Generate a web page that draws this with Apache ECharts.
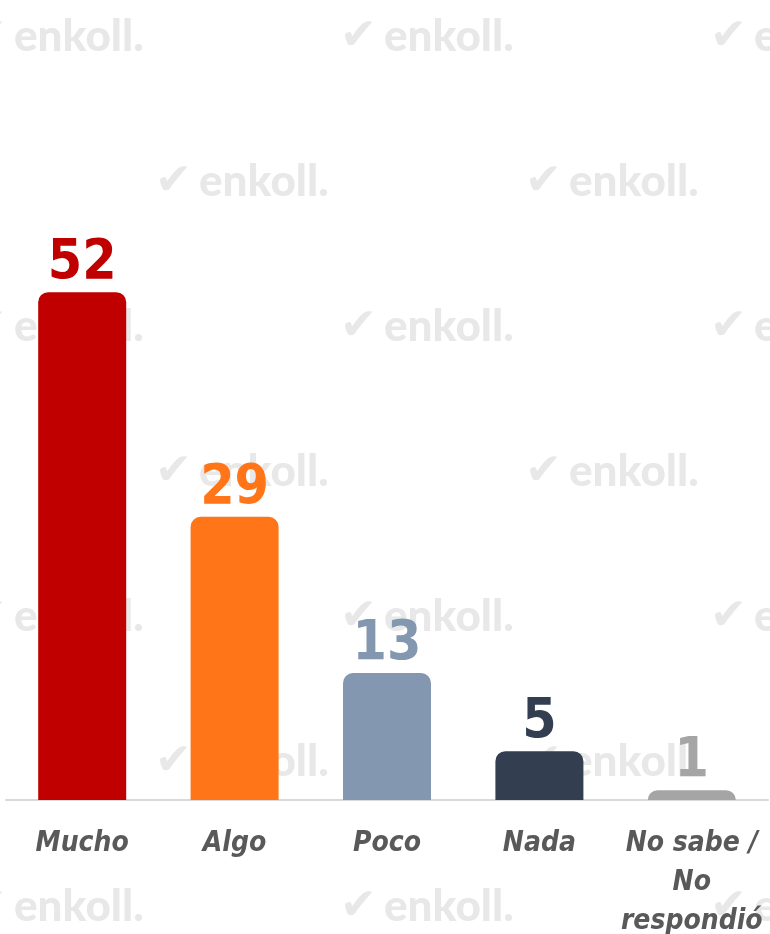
<!DOCTYPE html>
<html>
<head>
<meta charset="utf-8">
<script src="https://cdn.jsdelivr.net/npm/echarts@6/dist/echarts.min.js"></script>
<style>
  html, body { margin: 0; padding: 0; background: #fff; }
  #chart { width: 770px; height: 934px; }
</style>
</head>
<body>
<div id="chart"></div>
<script>
const categories = ['Mucho', 'Algo', 'Poco', 'Nada', 'No sabe /\nNo\nrespondió']
const values = [52, 29, 13, 5, 1]
const barColors = ['#c00000', '#ff7518', '#8497b0', '#333f50', '#a5a5a5']

const fontStack = "'Liberation Sans Narrow', 'DejaVu Sans Condensed', Lato, sans-serif"

// marca de agua de fondo
const watermark = []
const rowsY = [42, 187, 332, 477, 622, 767, 912]
rowsY.forEach((y, r) => {
  const xs = r % 2 === 0 ? [-30, 340, 710] : [155, 525]
  xs.forEach(x => {
    watermark.push({
      type: 'text', left: x, top: y - 26, z: -10, silent: true,
      style: { text: '✔', font: 'bold 44px DejaVu Sans', fill: '#e8e8e8' }
    })
    watermark.push({
      type: 'text', left: x + 44, top: y - 27, z: -10, silent: true,
      style: { text: 'enkoll.', font: '900 44px Lato', fill: '#e8e8e8' }
    })
  })
})

const chart = echarts.init(document.getElementById('chart'))
chart.setOption({
  backgroundColor: '#fff',
  animation: false,
  graphic: watermark,
  grid: { left: 6, right: 2, top: 214, bottom: 134, outerBoundsMode: 'none' },
  xAxis: {
    type: 'category',
    data: categories,
    axisLine: { lineStyle: { color: '#d9d9d9', width: 2 } },
    axisTick: { show: false },
    axisLabel: {
      interval: 0,
      margin: 24,
      color: '#595959',
      fontSize: 28,
      lineHeight: 39,
      fontStyle: 'italic',
      fontWeight: 'bold',
      fontFamily: fontStack
    }
  },
  yAxis: { type: 'value', min: 0, max: 60, show: false },
  series: [{
    type: 'bar',
    barWidth: 88,
    data: values.map((v, i) => ({
      value: v,
      itemStyle: { color: barColors[i], borderRadius: [10, 10, 0, 0] },
      label: { color: barColors[i] }
    })),
    label: {
      show: true,
      position: 'top',
      distance: 1,
      fontSize: 55,
      fontWeight: 'bold',
      fontFamily: fontStack
    }
  }]
})
</script>
</body>
</html>
